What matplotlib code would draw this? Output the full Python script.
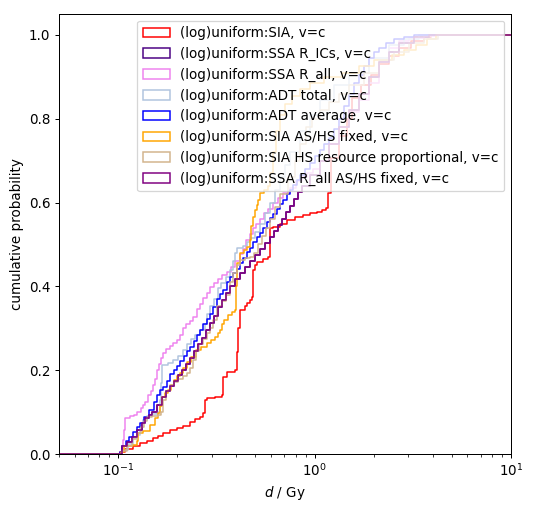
import matplotlib
matplotlib.use('Agg')
import matplotlib.pyplot as plt
from matplotlib.patches import Patch

plt.rcParams['font.size'] = 10.8

labels = [
    "(log)uniform:SIA, v=c",
    "(log)uniform:SSA R_ICs, v=c",
    "(log)uniform:SSA R_all, v=c",
    "(log)uniform:ADT total, v=c",
    "(log)uniform:ADT average, v=c",
    "(log)uniform:SIA AS/HS fixed, v=c",
    "(log)uniform:SIA HS resource proportional, v=c",
    "(log)uniform:SSA R_all AS/HS fixed, v=c",
]
colors = ['red', 'indigo', 'violet', 'lightsteelblue', 'blue', 'orange', 'tan', 'purple']

# (dose d in Gy, cumulative probability) step points
sia = [(0.05, 0), (0.1000, 0.000), (0.1024, 0.005), (0.1085, 0.012), (0.1192, 0.020), (0.1293, 0.026),
       (0.1404, 0.032), (0.1506, 0.037), (0.1596, 0.044), (0.1692, 0.050), (0.1837, 0.057),
       (0.1993, 0.062), (0.2138, 0.068), (0.2320, 0.077), (0.2460, 0.083), (0.2608, 0.089),
       (0.2701, 0.097), (0.2765, 0.129), (0.2830, 0.134), (0.3108, 0.136), (0.3373, 0.140),
       (0.3412, 0.184), (0.3576, 0.196), (0.3926, 0.200), (0.4019, 0.243), (0.4066, 0.300),
       (0.4162, 0.344), (0.4413, 0.352), (0.4517, 0.360), (0.4678, 0.368), (0.4789, 0.375),
       (0.4845, 0.439), (0.4960, 0.450), (0.5077, 0.458), (0.5446, 0.465), (0.5774, 0.470),
       (0.5910, 0.539), (0.6121, 0.542), (0.6643, 0.550), (0.7209, 0.558), (0.7915, 0.565),
       (0.8691, 0.570), (0.9432, 0.575), (1.024, 0.578), (1.085, 0.582), (1.150, 0.587),
       (1.164, 0.623), (1.219, 0.706), (1.338, 0.760), (1.468, 0.800), (1.556, 0.850),
       (1.728, 0.880), (1.941, 0.905), (2.130, 0.930), (2.392, 0.950), (2.687, 0.970),
       (3.090, 0.985), (3.593, 0.995), (3.897, 1.000), (10.0, 1.0)]

ssa_r_all_fixed = [(0.05, 0), (0.1000, 0), (0.1048, 0.018), (0.1111, 0.029), (0.1178, 0.041), (0.1249, 0.057),
       (0.1324, 0.073), (0.1371, 0.085), (0.1437, 0.093), (0.1488, 0.100), (0.1578, 0.117),
       (0.1673, 0.137), (0.1753, 0.150), (0.1837, 0.162), (0.1925, 0.175), (0.2017, 0.188),
       (0.2113, 0.200), (0.2214, 0.215), (0.2320, 0.230), (0.2432, 0.245), (0.2548, 0.262),
       (0.2670, 0.278), (0.2798, 0.295), (0.2931, 0.312), (0.3072, 0.330), (0.3219, 0.350),
       (0.3373, 0.368), (0.3534, 0.385), (0.3703, 0.400), (0.3926, 0.418), (0.4162, 0.432),
       (0.4413, 0.446), (0.4678, 0.460), (0.4960, 0.475), (0.5258, 0.490), (0.5575, 0.503),
       (0.5910, 0.517), (0.6193, 0.532), (0.6489, 0.546), (0.6800, 0.560), (0.7125, 0.577),
       (0.7466, 0.592), (0.7823, 0.608), (0.8198, 0.625), (0.8590, 0.640), (0.9432, 0.665),
       (1.060, 0.700), (1.191, 0.740), (1.338, 0.780), (1.503, 0.820), (1.688, 0.860),
       (1.896, 0.900), (2.130, 0.935), (2.392, 0.960), (2.687, 0.980), (3.199, 0.995),
       (3.808, 1.000), (10.0, 1.0)]

# lies beneath the SSA R_all AS/HS fixed curve (not separately visible)
ssa_r_ics = list(ssa_r_all_fixed)

ssa_r_all = [(0.05, 0), (0.1000, 0), (0.1048, 0.010), (0.1060, 0.033), (0.1073, 0.057), (0.1085, 0.085),
       (0.1151, 0.090), (0.1206, 0.093), (0.1249, 0.100), (0.1309, 0.110), (0.1340, 0.118),
       (0.1371, 0.125), (0.1420, 0.140), (0.1471, 0.150), (0.1506, 0.165), (0.1541, 0.180),
       (0.1578, 0.200), (0.1615, 0.215), (0.1653, 0.230), (0.1692, 0.240), (0.1753, 0.250),
       (0.1837, 0.258), (0.1902, 0.265), (0.1993, 0.272), (0.2065, 0.285), (0.2138, 0.300),
       (0.2214, 0.310), (0.2320, 0.318), (0.2403, 0.328), (0.2518, 0.345), (0.2608, 0.358),
       (0.2701, 0.372), (0.2830, 0.385), (0.2931, 0.398), (0.3072, 0.408), (0.3219, 0.418),
       (0.3373, 0.428), (0.3576, 0.435), (0.3747, 0.447), (0.3926, 0.460), (0.4162, 0.478),
       (0.4311, 0.490), (0.4465, 0.510), (0.4678, 0.525), (0.4845, 0.540), (0.5018, 0.550),
       (0.5258, 0.560), (0.5510, 0.575), (0.5774, 0.585), (0.6121, 0.598), (0.6489, 0.610),
       (0.6880, 0.622), (0.7466, 0.635), (0.8008, 0.652), (0.8590, 0.662), (0.9107, 0.670),
       (0.9768, 0.680), (1.060, 0.700), (1.191, 0.740), (1.338, 0.780), (1.503, 0.815),
       (1.688, 0.845), (1.896, 0.885), (2.130, 0.935), (2.392, 0.970), (2.687, 0.985),
       (3.018, 0.993), (3.593, 0.998), (4.129, 1.000), (10.0, 1.0)]

adt_total = [(0.05, 0), (0.1000, 0), (0.1048, 0.010), (0.1124, 0.025), (0.1192, 0.038), (0.1249, 0.045),
       (0.1293, 0.065), (0.1340, 0.080), (0.1404, 0.090), (0.1488, 0.095), (0.1578, 0.100),
       (0.1634, 0.130), (0.1653, 0.170), (0.1673, 0.212), (0.1794, 0.217), (0.1902, 0.224),
       (0.2017, 0.235), (0.2138, 0.248), (0.2241, 0.262), (0.2348, 0.275), (0.2460, 0.285),
       (0.2608, 0.295), (0.2765, 0.310), (0.2830, 0.335), (0.2931, 0.352), (0.3072, 0.370),
       (0.3219, 0.395), (0.3334, 0.407), (0.3534, 0.423), (0.3703, 0.440), (0.3835, 0.460),
       (0.3926, 0.479), (0.4019, 0.492), (0.4311, 0.497), (0.4517, 0.505), (0.4678, 0.515),
       (0.4960, 0.530), (0.5258, 0.550), (0.5575, 0.575), (0.5910, 0.600), (0.6266, 0.630),
       (0.6643, 0.660), (0.7042, 0.690), (0.7466, 0.720), (0.8392, 0.770), (0.9432, 0.810),
       (1.060, 0.845), (1.263, 0.880), (1.503, 0.910), (1.896, 0.945), (2.392, 0.975),
       (2.848, 0.990), (3.390, 1.000), (10.0, 1.0)]

adt_average = [(0.05, 0), (0.1000, 0), (0.1024, 0.005), (0.1048, 0.020), (0.1098, 0.030), (0.1137, 0.040),
       (0.1192, 0.052), (0.1249, 0.065), (0.1293, 0.075), (0.1355, 0.089), (0.1437, 0.105),
       (0.1523, 0.125), (0.1578, 0.141), (0.1634, 0.153), (0.1692, 0.161), (0.1773, 0.175),
       (0.1837, 0.190), (0.1925, 0.200), (0.1993, 0.210), (0.2065, 0.222), (0.2163, 0.235),
       (0.2241, 0.245), (0.2320, 0.256), (0.2432, 0.270), (0.2518, 0.283), (0.2608, 0.295),
       (0.2701, 0.310), (0.2830, 0.322), (0.2931, 0.335), (0.3036, 0.350), (0.3181, 0.370),
       (0.3295, 0.383), (0.3412, 0.392), (0.3576, 0.410), (0.3703, 0.422), (0.3835, 0.432),
       (0.4019, 0.442), (0.4162, 0.455), (0.4311, 0.468), (0.4517, 0.482), (0.4678, 0.492),
       (0.4845, 0.505), (0.5077, 0.518), (0.5258, 0.528), (0.5446, 0.540), (0.5707, 0.553),
       (0.5910, 0.562), (0.6121, 0.572), (0.6414, 0.585), (0.6643, 0.597), (0.6880, 0.607),
       (0.7209, 0.620), (0.7466, 0.630), (0.7733, 0.642), (0.8103, 0.655), (0.8392, 0.665),
       (0.8896, 0.680), (0.9432, 0.695), (1.000, 0.710), (1.060, 0.725), (1.123, 0.740),
       (1.191, 0.755), (1.263, 0.775), (1.338, 0.800), (1.418, 0.830), (1.503, 0.860),
       (1.593, 0.885), (1.688, 0.905), (1.789, 0.925), (1.896, 0.945), (2.010, 0.960),
       (2.130, 0.970), (2.311, 0.980), (2.535, 0.990), (2.848, 0.996), (3.199, 1.000), (10.0, 1.0)]

sia_fixed = [(0.05, 0), (0.1000, 0), (0.1036, 0.004), (0.1073, 0.018), (0.1192, 0.022), (0.1249, 0.030),
       (0.1264, 0.050), (0.1340, 0.055), (0.1454, 0.069), (0.1541, 0.085), (0.1596, 0.097),
       (0.1634, 0.115), (0.1673, 0.137), (0.1732, 0.145), (0.1794, 0.153), (0.1858, 0.165),
       (0.1925, 0.177), (0.1993, 0.185), (0.2065, 0.193), (0.2138, 0.205), (0.2241, 0.220),
       (0.2348, 0.232), (0.2489, 0.248), (0.2639, 0.256), (0.2830, 0.264), (0.2966, 0.272),
       (0.3108, 0.280), (0.3219, 0.288), (0.3295, 0.296), (0.3373, 0.310), (0.3453, 0.320),
       (0.3618, 0.332), (0.3791, 0.338), (0.3926, 0.344), (0.3972, 0.400), (0.4019, 0.455),
       (0.4162, 0.479), (0.4362, 0.487), (0.4517, 0.495), (0.4678, 0.510), (0.4733, 0.543),
       (0.4845, 0.566), (0.4960, 0.582), (0.5077, 0.595), (0.5137, 0.606), (0.5258, 0.622),
       (0.5510, 0.630), (0.5774, 0.640), (0.5910, 0.670), (0.6121, 0.720), (0.6339, 0.770),
       (0.6643, 0.810), (0.7042, 0.835), (0.7643, 0.855), (0.8392, 0.870), (0.9432, 0.885),
       (1.123, 0.900), (1.386, 0.910), (1.688, 0.925), (2.010, 0.940), (2.477, 0.952),
       (2.848, 0.965), (3.274, 0.976), (3.721, 0.990), (4.129, 1.000), (10.0, 1.0)]

sia_hs_prop = [(0.05, 0), (0.1000, 0), (0.1048, 0.008), (0.1111, 0.020), (0.1178, 0.035), (0.1249, 0.050),
       (0.1309, 0.065), (0.1355, 0.078), (0.1404, 0.088), (0.1488, 0.090), (0.1596, 0.092),
       (0.1653, 0.100), (0.1692, 0.130), (0.1753, 0.150), (0.1837, 0.165), (0.1925, 0.172),
       (0.2017, 0.180), (0.2138, 0.185), (0.2241, 0.193), (0.2320, 0.205), (0.2403, 0.225),
       (0.2489, 0.245), (0.2578, 0.262), (0.2701, 0.275), (0.2830, 0.288), (0.2931, 0.300),
       (0.3036, 0.320), (0.3181, 0.352), (0.3373, 0.365), (0.3534, 0.380), (0.3703, 0.410),
       (0.3835, 0.431), (0.4019, 0.450), (0.4162, 0.463), (0.4413, 0.467), (0.4678, 0.471),
       (0.4902, 0.480), (0.5137, 0.500), (0.5383, 0.520), (0.5640, 0.540), (0.5910, 0.560),
       (0.6266, 0.590), (0.6643, 0.620), (0.7294, 0.660), (0.7915, 0.700), (0.8392, 0.740),
       (0.9001, 0.780), (0.9655, 0.800), (1.060, 0.820), (1.191, 0.840), (1.338, 0.860),
       (1.503, 0.880), (1.789, 0.910), (2.130, 0.940), (2.535, 0.960), (3.018, 0.980),
       (3.593, 0.990), (4.274, 1.000), (10.0, 1.0)]

curves = [sia, ssa_r_ics, ssa_r_all, adt_total, adt_average, sia_fixed, sia_hs_prop, ssa_r_all_fixed]

W, H, DPI = 538, 514, 90
fig = plt.figure(figsize=(W / DPI, H / DPI), dpi=DPI)
ax = fig.add_axes([59 / W, 1 - 454 / H, (511 - 59) / W, (454 - 14) / H])

lw = 1.2
for curve, c in zip(curves, colors):
    d = [pt[0] for pt in curve]
    p = [pt[1] for pt in curve]
    ax.step(d, p, where='post', color=c, lw=lw)

ax.set_xscale('log')
ax.set_xlim(0.05, 10)
ax.set_ylim(0, 1.05)
ax.set_xlabel('$d$ / Gy')
ax.set_ylabel('cumulative probability')

handles = [Patch(facecolor='none', edgecolor=c, lw=lw) for c in colors]
ax.legend(handles, labels, loc='upper right')

fig.savefig('out.png', dpi=DPI)
